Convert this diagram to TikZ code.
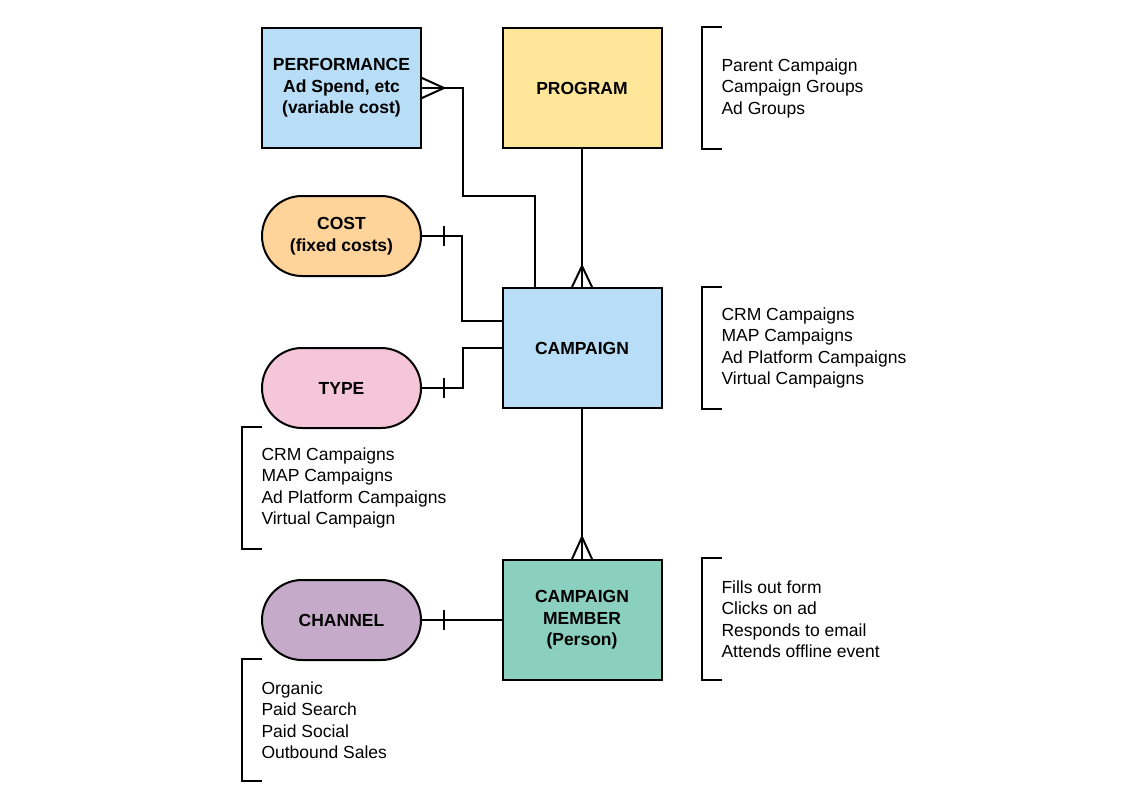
\documentclass[tikz,border=0pt]{standalone}
\usepackage{fontspec}
\setmainfont{Liberation Sans}
\usetikzlibrary{positioning,calc}
\definecolor{skyblue}{HTML}{B8DDF6}
\definecolor{butter}{HTML}{FFE699}
\definecolor{apricot}{HTML}{FED49A}
\definecolor{blush}{HTML}{F5C6D8}
\definecolor{seafoam}{HTML}{8BCFBF}
\definecolor{lilac}{HTML}{C6AAC9}

\begin{document}
\begin{tikzpicture}[x=1pt,y=-1pt,line width=2pt,
  font=\fontsize{17.5}{21.5}\selectfont,
  ent/.style={draw,minimum width=159pt,minimum height=120pt,align=center,font=\fontsize{17.5}{21.5}\selectfont\bfseries},
  pill/.style={draw,rounded corners=40pt,minimum width=159pt,minimum height=80pt,align=center,font=\fontsize{17.5}{21.5}\selectfont\bfseries},
  note/.style={anchor=west,minimum height=120pt,inner ysep=0pt,inner xsep=18.5pt,align=left}]
\useasboundingbox (0,0) rectangle (1123,797);
% entities
\node[ent,fill=skyblue] (perf) at (341.5,88) {PERFORMANCE\\Ad Spend, etc\\(variable cost)};
\node[ent,fill=butter] (prog) at (582,88) {PROGRAM};
\node[pill,fill=apricot] (cost) at (341.5,236) {COST\\(fixed costs)};
\node[ent,fill=skyblue] (camp) at (582,348) {CAMPAIGN};
\node[pill,fill=blush] (type) at (341.5,388) {TYPE};
\node[ent,fill=seafoam] (memb) at (582,620) {CAMPAIGN\\MEMBER\\(Person)};
\node[pill,fill=lilac] (chan) at (341.5,620) {CHANNEL};
% notes
\node[note] (n1) at (702,88) {Parent Campaign\\Campaign Groups\\Ad Groups};
\node[note] (n2) at (702,348) {CRM Campaigns\\MAP Campaigns\\Ad Platform Campaigns\\Virtual Campaigns};
\node[note] (n3) at (242,488) {CRM Campaigns\\MAP Campaigns\\Ad Platform Campaigns\\Virtual Campaign};
\node[note] (n4) at (702,619) {Fills out form\\Clicks on ad\\Responds to email\\Attends offline event};
\node[note] (n5) at (242,720) {Organic\\Paid Search\\Paid Social\\Outbound Sales};
\foreach \n in {n1,n2,n3,n4,n5}
  \draw ($(\n.north west)+(20,0)$) -- (\n.north west) -- (\n.south west) -- ($(\n.south west)+(20,0)$);
% relations
\draw (perf.east) -- ++(41,0) |- ($(camp.north)+(-47,-91)$) -- ($(camp.north)+(-47,0)$);
\draw ($(perf.east)+(0,-10)$) -- ++(22,10) -- ($(perf.east)+(0,10)$);
\draw (prog.south) -- (camp.north);
\draw ($(camp.north)+(-10,0)$) -- ++(10,-21) -- ($(camp.north)+(10,0)$);
\draw (cost.east) -| ($(camp.west)+(-40,-27)$) -- ($(camp.west)+(0,-27)$);
\draw ($(cost.east)+(22,-10)$) -- ++(0,20);
\draw (camp.west) -| ($(type.east)+(41,0)$) -- (type.east);
\draw ($(type.east)+(22,-10)$) -- ++(0,20);
\draw (camp.south) -- (memb.north);
\draw ($(memb.north)+(-10,0)$) -- ++(10,-22) -- ($(memb.north)+(10,0)$);
\draw (chan.east) -- (memb.west);
\draw ($(chan.east)+(22,-10)$) -- ++(0,20);
\end{tikzpicture}
\end{document}
